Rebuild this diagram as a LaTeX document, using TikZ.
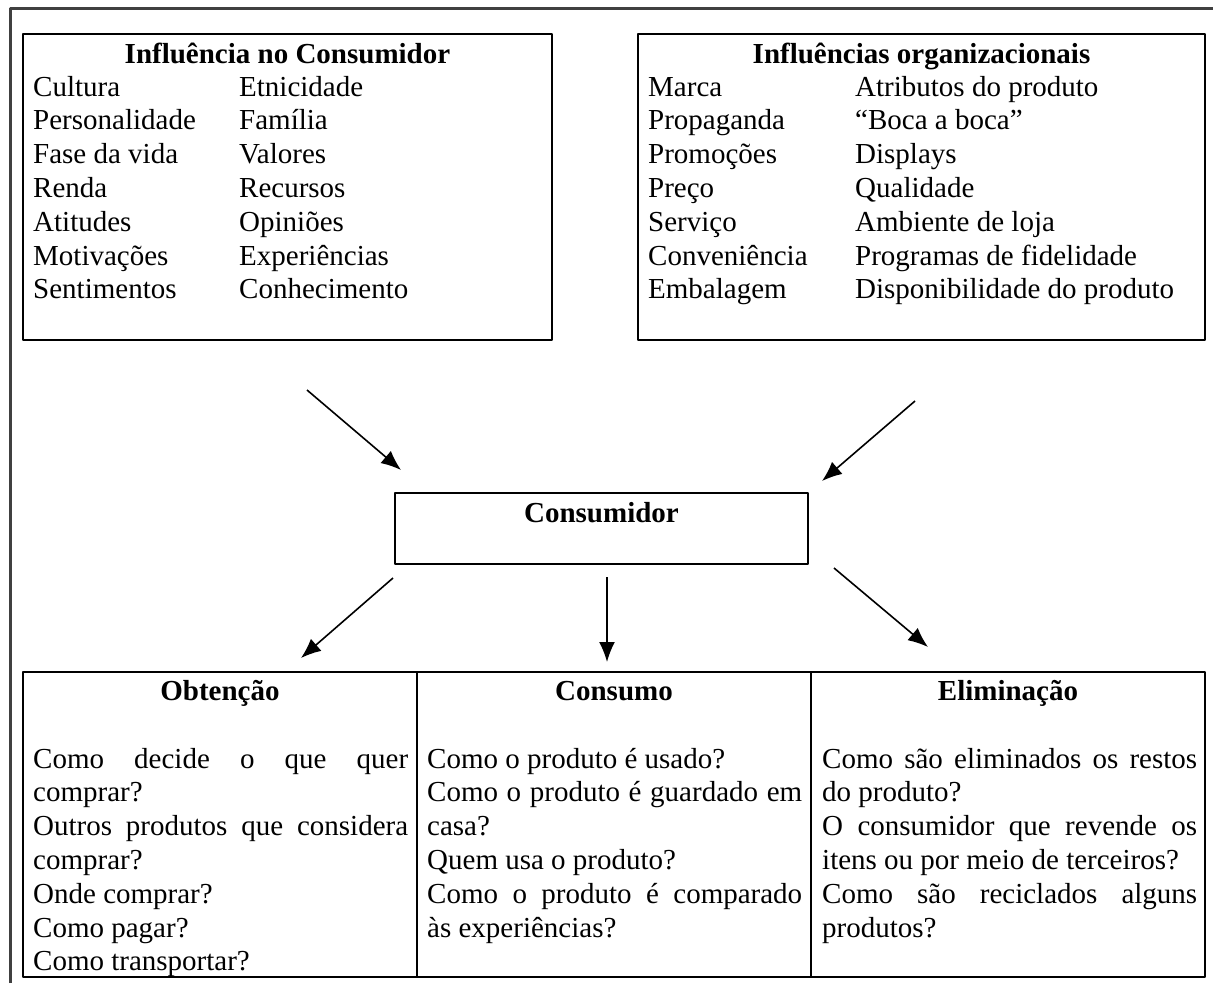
\documentclass[tikz,border=0pt]{standalone}
\usepackage{fontspec}
\setmainfont{Liberation Serif}
\usetikzlibrary{arrows.meta}

\begin{document}
\begin{tikzpicture}[x=1pt,y=-1pt,>={Latex[length=20pt,width=16pt]},line join=bevel,
  box/.style={draw,rectangle,line width=2.6pt,inner sep=0pt},
  txt/.style={inner sep=0pt,anchor=base west,font=\fontsize{29}{33.8}\selectfont},
  ttl/.style={inner sep=0pt,anchor=base,font=\fontsize{29}{33.8}\selectfont\bfseries},
  cell/.style={txt,text width=375pt,align=justify},
  arr/.style={->,line width=1.6pt}]
\useasboundingbox (0,0) rectangle (1213,983);
%%
\draw [line width=3pt,black!75] (10,983) -- (10,8) -- (1213,8);
%
\node (infcons) at (287.5,187) [box,minimum width=529pt,minimum height=306pt] {};
  \node (inforg) at (921.5,187) [box,minimum width=567pt,minimum height=306pt] {};
  \node (cons) at (601.5,528.5) [box,minimum width=413pt,minimum height=71pt] {};
  \node (obt) at (220,824.5) [box,minimum width=394pt,minimum height=305pt] {};
  \node (consumo) at (614,824.5) [box,minimum width=394pt,minimum height=305pt] {};
  \node (elim) at (1008,824.5) [box,minimum width=394pt,minimum height=305pt] {};
%
\node (tinfcons) at (287.5,63) [ttl] {Influência no Consumidor};
  \node (tinforg) at (921.5,63) [ttl] {Influências organizacionais};
  \node (tcons) at (601.5,522) [ttl] {Consumidor};
  \node (tobt) at (220,700) [ttl] {Obtenção};
  \node (tconsumo) at (614,700) [ttl] {Consumo};
  \node (telim) at (1008,700) [ttl] {Eliminação};
%
\foreach \a/\b [count=\i] in {Cultura/Etnicidade,Personalidade/Família,Fase da vida/Valores,
    Renda/Recursos,Atitudes/Opiniões,Motivações/Experiências,Sentimentos/Conhecimento}
  {\node (ca\i) at (33,{62.2+33.8*\i}) [txt] {\a};
   \node (cb\i) at (239,{62.2+33.8*\i}) [txt] {\b};}
\foreach \a/\b [count=\i] in {Marca/Atributos do produto,Propaganda/“Boca a boca”,Promoções/Displays,
    Preço/Qualidade,Serviço/Ambiente de loja,Conveniência/Programas de fidelidade,
    Embalagem/Disponibilidade do produto}
  {\node (oa\i) at (648,{62.2+33.8*\i}) [txt] {\a};
   \node (ob\i) at (855,{62.2+33.8*\i}) [txt] {\b};}
%
\node (qobt) at (33,768) [cell] {Como decide o que quer\linebreak comprar?\par
  Outros produtos que considera\linebreak comprar?\par
  Onde comprar?\par Como pagar?\par Como transportar?};
  \node (qconsumo) at (427,768) [cell] {Como o produto é usado?\par
  Como o produto é guardado em\linebreak casa?\par
  Quem usa o produto?\par
  Como o produto é comparado\linebreak às experiências?};
  \node (qelim) at (822,768) [cell] {Como são eliminados os restos\linebreak do produto?\par
  O consumidor que revende os\linebreak itens ou por meio de terceiros?\par
  Como são reciclados alguns\linebreak produtos?};
%
\coordinate (e1) at (307,390);  \coordinate (f1) at (401,470);
  \coordinate (e2) at (915,401);  \coordinate (f2) at (822,481);
  \coordinate (s1) at (393,578);  \coordinate (t1) at (301,658);
  \coordinate (s2) at (607,577);  \coordinate (t2) at (607,662);
  \coordinate (s3) at (834,568);  \coordinate (t3) at (928,647);
  \draw [arr] (e1) -- (f1);
  \draw [arr] (e2) -- (f2);
  \draw [arr] (s1) -- (t1);
  \draw [arr] (s2) -- (t2);
  \draw [arr] (s3) -- (t3);
%
\end{tikzpicture}
\end{document}
